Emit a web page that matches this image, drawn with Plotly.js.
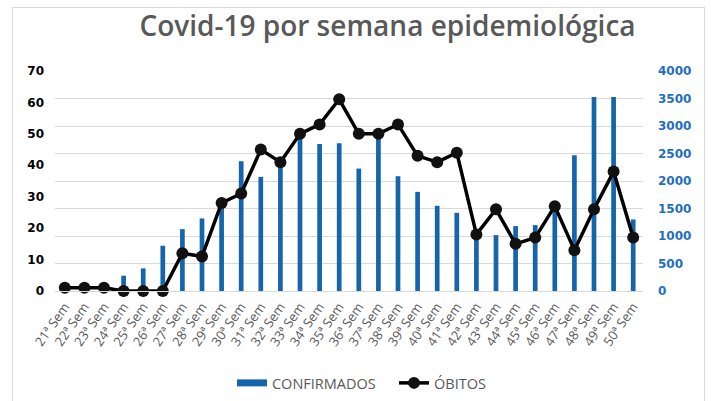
<!DOCTYPE html>
<html>
<head>
<meta charset="utf-8">
<script src="https://cdn.plot.ly/plotly-3.0.1.min.js"></script>
<style>
  html, body { margin: 0; padding: 0; background: #fff; }
  #wrap { position: relative; width: 711px; height: 401px; overflow: hidden; }
  #chart { position: absolute; left: 0; top: 0; width: 711px; height: 401px; }
  #frame { position: absolute; left: 12px; top: 7px; width: 691px; height: 420px;
           border: 1px solid #d9d9d9; pointer-events: none; }
</style>
</head>
<body>
<div id="wrap">
  <div id="chart"></div>
  <div id="frame"></div>
</div>
<script>
const semanas = ["21ª Sem","22ª Sem","23ª Sem","24ª Sem","25ª Sem","26ª Sem","27ª Sem","28ª Sem","29ª Sem","30ª Sem",
                 "31ª Sem","32ª Sem","33ª Sem","34ª Sem","35ª Sem","36ª Sem","37ª Sem","38ª Sem","39ª Sem","40ª Sem",
                 "41ª Sem","42ª Sem","43ª Sem","44ª Sem","45ª Sem","46ª Sem","47ª Sem","48ª Sem","49ª Sem","50ª Sem"];
const confirmados = [0, 0, 0, 278, 411, 823, 1125, 1319, 1560, 2360,
                     2075, 2300, 2783, 2674, 2686, 2226, 2840, 2087, 1803, 1549,
                     1422, 1010, 1016, 1180, 1198, 1520, 2468, 3527, 3527, 1301];
const obitos = [1, 1, 1, 0, 0, 0, 12, 11, 28, 31,
                45, 41, 50, 53, 61, 50, 50, 53, 43, 41,
                44, 18, 26, 15, 17, 27, 13, 26, 38, 17];
const leftTicks = [0, 10, 20, 30, 40, 50, 60, 70];
const rightTicks = [0, 500, 1000, 1500, 2000, 2500, 3000, 3500, 4000];

const barColor = '#1565ad';

const traces = [
  {
    type: 'bar', name: 'CONFIRMADOS', x: semanas, y: confirmados, yaxis: 'y',
    width: 0.24, showlegend: false, legendgroup: 'conf',
    marker: { color: barColor, line: { width: 0 } }
  },
  {
    // legend key only: wide blue bar swatch as in the original
    type: 'scatter', mode: 'lines', name: 'CONFIRMADOS', x: [null], y: [null], yaxis: 'y',
    legendgroup: 'conf', showlegend: true,
    line: { color: barColor, width: 7 }
  },
  {
    type: 'scatter', mode: 'lines+markers', name: 'ÓBITOS', x: semanas, y: obitos, yaxis: 'y2',
    line: { color: '#000000', width: 3.5 },
    marker: { color: '#111111', size: 12, symbol: 'circle' },
    cliponaxis: false
  }
];

const layout = {
  width: 711, height: 401,
  margin: { l: 55, r: 68, t: 71, b: 110 },
  paper_bgcolor: '#ffffff', plot_bgcolor: '#ffffff',
  showlegend: true,
  title: {
    text: 'Covid-19 por semana epidemiológica',
    font: { family: 'Open Sans', size: 28, color: '#595959', weight: 600 },
    x: 0.545, xanchor: 'center', y: 0.935, yanchor: 'middle',
    automargin: false
  },
  xaxis: {
    type: 'category', automargin: false, range: [-0.5, semanas.length - 0.5],
    tickangle: -55,
    tickfont: { family: 'Open Sans', size: 13, color: '#595959' },
    showgrid: false, zeroline: false,
    showline: true, linecolor: '#d9d9d9', linewidth: 1,
    ticks: '', ticklabelstandoff: 2
  },
  yaxis: {
    side: 'right', range: [0, 4000], tickvals: rightTicks, automargin: false,
    showgrid: true, gridcolor: '#d9d9d9', gridwidth: 1,
    zeroline: false, showline: false, ticks: '',
    tickfont: { family: 'DejaVu Sans', size: 12, color: '#1f6fbd', weight: 'bold' },
    ticklabelstandoff: 14
  },
  yaxis2: {
    side: 'left', overlaying: 'y', range: [0, 70], tickvals: leftTicks, automargin: false,
    showgrid: false, zeroline: false, showline: false, ticks: '',
    tickfont: { family: 'DejaVu Sans', size: 12, color: '#000000', weight: 'bold' },
    ticklabelstandoff: 10
  },
  legend: {
    orientation: 'h', x: 0.301, xanchor: 'left',
    yref: 'container', y: 0.045, yanchor: 'middle',
    font: { family: 'Open Sans', size: 14.5, color: '#595959' },
    itemwidth: 30, traceorder: 'normal', tracegroupgap: 0,
    entrywidth: 117, entrywidthmode: 'pixels'
  },
  bargap: 0.76
};

Plotly.newPlot('chart', traces, layout, { displayModeBar: false, staticPlot: true });
</script>
</body>
</html>
